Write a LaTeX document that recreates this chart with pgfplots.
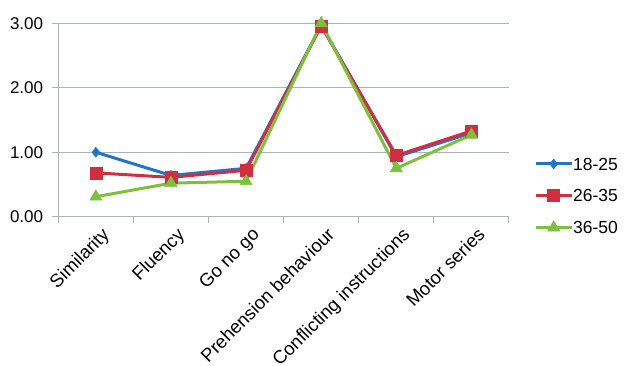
\documentclass[border=0pt]{standalone}
\usepackage{pgfplots}
\pgfplotsset{compat=1.18}
\usepackage{fontspec}
\setmainfont{Liberation Sans}

\definecolor{gridgray}{RGB}{172,178,186}
\definecolor{ser1}{RGB}{36,116,198}
\definecolor{ser2}{RGB}{206,48,66}
\definecolor{ser3}{RGB}{126,192,62}

\begin{document}
\begin{tikzpicture}
\begin{axis}[
  name=ax,
  scale only axis,
  width=450.7pt, height=193.4pt,
  xmin=0.5, xmax=6.5,
  ymin=0, ymax=3,
  clip=false,
  axis lines*=left,
  axis line style={draw=gridgray, line width=1pt},
  ymajorgrids,
  grid style={draw=gridgray, line width=1pt},
  tick align=outside,
  major tick length=6pt,
  tick style={draw=gridgray, line width=1pt},
  xtick={0.5,1.5,2.5,3.5,4.5,5.5,6.5},
  xticklabels={Similarity,Fluency,Go no go,Prehension behaviour,Conflicting instructions,Motor series,{}},
  xticklabel style={xshift=42.5pt, yshift=-3.5pt, rotate=45, anchor=north east, inner sep=0pt,
    font=\fontsize{18.5}{21}\selectfont},
  ytick={0,1,2,3},
  yticklabel style={font=\fontsize{17}{20}\selectfont, anchor=east, inner sep=0pt, xshift=-9pt},
  /pgf/number format/assume math mode=true,
  yticklabel={\pgfmathprintnumber[fixed, fixed zerofill, precision=2]{\tick}},
  legend style={at={(axis description cs:1,0.108)}, xshift=25pt, anchor=west,
    draw=none, fill=none, inner sep=0pt, row sep=19pt,
    font=\fontsize{17.5}{20}\selectfont,
    nodes={inner sep=0pt, text height=12.5pt, text depth=0pt},
    /tikz/every even column/.append style={column sep=5pt}},
  legend cell align=left,
  legend image code/.code={\draw[#1, mark repeat=2, mark phase=2]
    plot coordinates {(0pt,0pt) (18pt,0pt) (36pt,0pt)};},
  every axis plot/.append style={line width=3pt},
]
\addplot[ser1, mark=diamond*, mark size=5pt, mark options={line width=0.5pt}]
  coordinates {(1,1.00) (2,0.64) (3,0.75) (4,2.97) (5,0.93) (6,1.30)};
\addlegendentry{18-25}
\addplot[ser2, mark=square*, mark size=6pt, mark options={line width=0.5pt}]
  coordinates {(1,0.68) (2,0.61) (3,0.72) (4,2.96) (5,0.95) (6,1.33)};
\addlegendentry{26-35}
\addplot[ser3, mark=triangle*, mark size=7pt, mark options={line width=0.5pt}]
  coordinates {(1,0.31) (2,0.52) (3,0.55) (4,3.00) (5,0.75) (6,1.27)};
\addlegendentry{36-50}
\end{axis}
\pgfresetboundingbox
\path[use as bounding box] ([xshift=-58.3pt, yshift=-149.3pt]ax.south west) rectangle ++(627pt,366pt);
\end{tikzpicture}
\end{document}
